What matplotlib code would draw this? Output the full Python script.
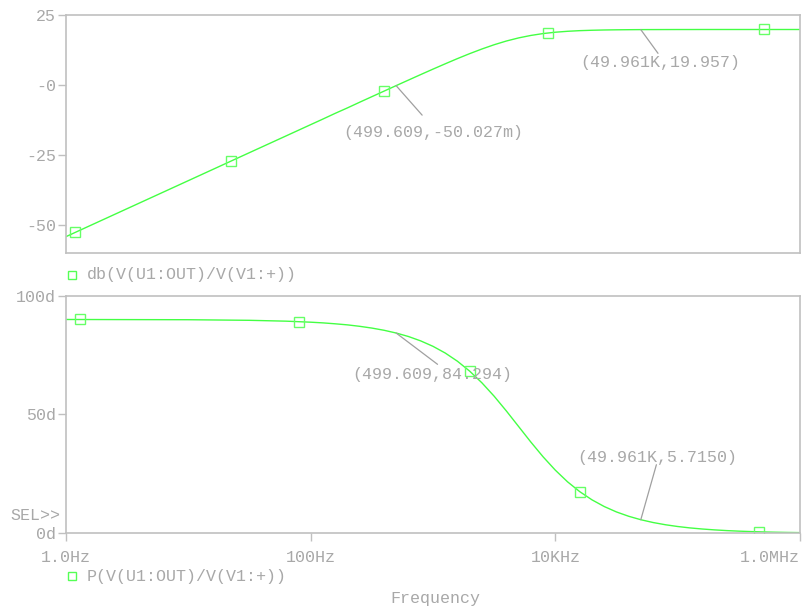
import matplotlib.pyplot as plt
from matplotlib.lines import Line2D
from matplotlib.ticker import NullLocator

plt.rcParams['font.family'] = ['Liberation Mono', 'DejaVu Sans Mono']

# AC sweep of the output, 1 Hz .. 1 MHz
freq = [1, 10, 31.6, 63.1, 100, 126, 158, 200, 251, 316, 398, 501, 631, 794,
		1000, 1259, 1585, 1995, 2512, 3162, 3981, 5012, 6310, 7943, 10000,
		12589, 15849, 19953, 25119, 31623, 39811, 50119, 63096, 79433, 100000,
		125893, 158489, 199526, 251189, 316228, 398107, 501187, 630957,
		794328, 1000000]
gain_db = [-53.98, -33.98, -23.98, -17.98, -13.98, -11.98, -9.98, -7.99, -5.99,
		-4.00, -2.01, -0.02, 1.95, 3.91, 5.85, 7.75, 9.61, 11.38, 13.04, 14.56,
		15.89, 17.00, 17.88, 18.55, 19.03, 19.36, 19.59, 19.73, 19.83, 19.89,
		19.93, 19.96, 19.97, 19.98, 19.99, 19.99, 20.00, 20.00, 20.00, 20.00,
		20.00, 20.00, 20.00, 20.00, 20.00]
phase_deg = [89.99, 89.89, 89.64, 89.28, 88.85, 88.56, 88.18, 87.72, 87.12,
		86.38, 85.45, 84.28, 82.81, 80.97, 78.69, 75.87, 72.41, 68.24, 63.32,
		57.69, 51.47, 44.93, 38.39, 32.19, 26.57, 21.66, 17.51, 14.07, 11.26,
		8.98, 7.16, 5.70, 4.53, 3.60, 2.86, 2.27, 1.81, 1.44, 1.14, 0.91, 0.72,
		0.57, 0.45, 0.36, 0.29]

# trace symbols
gain_mark_freq = [1.19, 22.3, 399, 8710, 507000]
gain_mark_db = [-52.47, -27.01, -2.00, 18.76, 20.00]
phase_mark_freq = [1.30, 80.1, 2000, 15800, 459000]
phase_mark_deg = [89.99, 89.08, 68.2, 17.54, 0.62]

# cursor readouts
cursor_freq = [499.609, 49961]
cursor_db = [-0.050027, 19.957]
cursor_deg = [84.294, 5.7150]
cursor_db_labels = ["(499.609,-50.027m)", "(49.961K,19.957)"]
cursor_deg_labels = ["(499.609,84.294)", "(49.961K,5.7150)"]

x_ticks = [1, 100, 1e4, 1e6]
x_tick_labels = ["1.0Hz", "100Hz", "10KHz", "1.0MHz"]
db_ticks = [25, 0, -25, -50]
db_tick_labels = ["25", "-0", "-25", "-50"]
deg_ticks = [100, 50, 0]
deg_tick_labels = ["100d", "50d", "0d"]

TEXT = '#a8a8a8'
FRAME = '#c0c0c0'
TRACE = '#44ff44'
FS = 12

W, H = 806, 610
fig = plt.figure(figsize=(W / 100, H / 100), dpi=100)

def px_axes(left, top, right, bottom):
	return fig.add_axes([left / W, 1 - bottom / H, (right - left) / W, (bottom - top) / H])

def style(ax):
	for s in ax.spines.values():
		s.set_color(FRAME)
		s.set_linewidth(1.2)
	ax.set_xscale('log')
	ax.set_xlim(1, 1e6)
	ax.xaxis.set_minor_locator(NullLocator())
	ax.tick_params(which='both', colors=FRAME, labelcolor=TEXT, labelsize=FS,
				length=5.5, width=1.0, direction='out', pad=1.5)

def cursor(ax, x, y, label, line_off, text_off):
	ax.annotate('', xy=(x, y), xytext=line_off, textcoords='offset pixels',
				arrowprops=dict(arrowstyle='-', color='#a0a0a0', lw=0.9,
								shrinkA=0, shrinkB=0))
	ax.annotate(label, xy=(x, y), xytext=text_off, textcoords='offset pixels',
				ha='center', va='center', color=TEXT, fontsize=FS)

# magnitude
ax1 = px_axes(66, 15.5, 800, 253.5)
style(ax1)
ax1.plot(freq, gain_db, color=TRACE, lw=1.0)
ax1.plot(gain_mark_freq, gain_mark_db, ls='none', marker='s', ms=6.5,
		mfc='none', mec='#66ff66', mew=1.0)
ax1.set_ylim(-60, 25)
ax1.set_yticks(db_ticks)
ax1.set_yticklabels(db_tick_labels)
ax1.tick_params(axis='x', which='both', bottom=False, labelbottom=False)
cursor(ax1, cursor_freq[0], cursor_db[0], cursor_db_labels[0], (26, -29.5), (36.7, -47))
cursor(ax1, cursor_freq[1], cursor_db[1], cursor_db_labels[1], (17.2, -23.7), (19.4, -32.7))

# phase
ax2 = px_axes(66, 295.7, 800, 533.3)
style(ax2)
ax2.plot(freq, phase_deg, color=TRACE, lw=1.0)
ax2.plot(phase_mark_freq, phase_mark_deg, ls='none', marker='s', ms=6.5,
		mfc='none', mec='#66ff66', mew=1.0)
ax2.set_ylim(0, 100)
ax2.set_yticks(deg_ticks)
ax2.set_yticklabels(deg_tick_labels)
ax2.set_xticks(x_ticks)
ax2.set_xticklabels(x_tick_labels)
ax2.tick_params(axis='x', pad=6.5)
ax2.get_xticklabels()[-1].set_ha('right')
cursor(ax2, cursor_freq[0], cursor_deg[0], cursor_deg_labels[0], (41.4, -31.3), (36.2, -41))
cursor(ax2, cursor_freq[1], cursor_deg[1], cursor_deg_labels[1], (15.6, 55), (16.9, 62.4))

# trace legends
for y, name in [(275, "db(V(U1:OUT)/V(V1:+))"), (576, "P(V(U1:OUT)/V(V1:+))")]:
	fig.add_artist(Line2D([72.3 / W], [1 - y / H], ls='none', marker='s', ms=5.5,
						mfc='none', mec='#55ff55', mew=1.0))
	fig.text(86.7 / W, 1 - y / H, name, color=TEXT, fontsize=FS, va='center')

fig.text(10 / W, 1 - 515 / H, "SEL>>", color=TEXT, fontsize=FS, va='center')
fig.text(435 / W, 1 - 599 / H, "Frequency", color=TEXT, fontsize=FS,
		ha='center', va='center')

fig.savefig('out.png', dpi=100)
